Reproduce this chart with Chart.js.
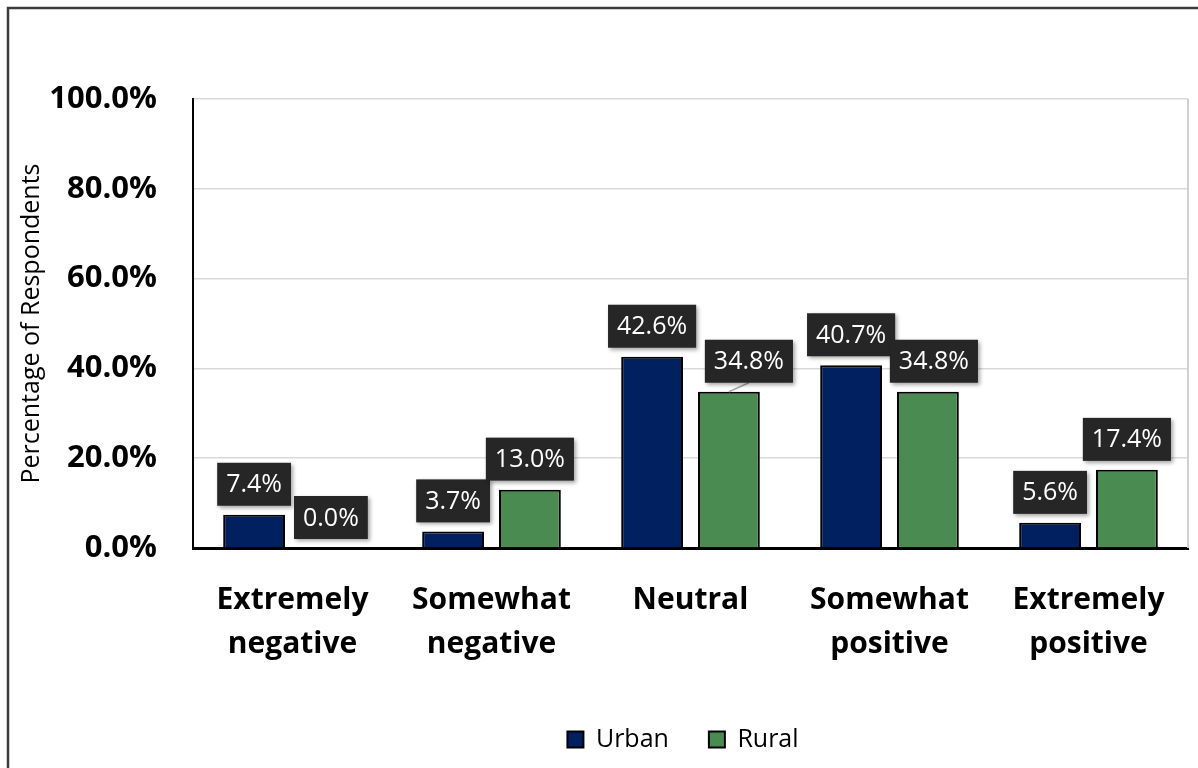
<!DOCTYPE html>
<html>
<head>
<meta charset="utf-8">
<script src="https://cdn.jsdelivr.net/npm/chart.js@4/dist/chart.umd.min.js"></script>
<style>
    body { margin: 0; background: #fff; }
    #wrap { width: 1198px; height: 768px; }
</style>
</head>
<body>
<div id="wrap"><canvas id="myChart" width="1198" height="768"></canvas></div>
<script>
// ------------------------------ data ------------------------------
const categories = [
    ["Extremely", "negative"],
    ["Somewhat", "negative"],
    "Neutral",
    ["Somewhat", "positive"],
    ["Extremely", "positive"]
];
const urbanValues = [7.4, 3.7, 42.6, 40.7, 5.6];
const ruralValues = [0.0, 13.0, 34.8, 34.8, 17.4];
const yTicks = [0, 20, 40, 60, 80, 100];

// small sideways nudges for the callouts (px), rural neutral gets a leader line
const urbanNudge = [0, 0, 0, 0, 0];
const ruralNudge = [0, 0, 20, 6, 0];

const FONT = "'Open Sans', 'Noto Sans', sans-serif";

// -------------------------- frame lines ---------------------------
const framePlugin = {
    id: "frame",
    afterLayout(chart) {
        // excel puts the legend a bit right of centre
        chart.legend.left += 83;
        chart.legend.right += 83;
    },
    beforeDraw(chart) {
        const ctx = chart.ctx;
        ctx.save();
        ctx.strokeStyle = "#3c3c3c";
        ctx.lineWidth = 2.5;
        ctx.beginPath();
        ctx.moveTo(8, 768);
        ctx.lineTo(8, 8);
        ctx.lineTo(1198, 8);
        ctx.stroke();
        ctx.restore();
    },
    afterDatasetsDraw(chart) {
        const ctx = chart.ctx;
        const a = chart.chartArea;
        ctx.save();
        ctx.strokeStyle = "#d0d0d0";
        ctx.lineWidth = 2;
        ctx.beginPath();
        ctx.moveTo(a.right, a.top);
        ctx.lineTo(a.right, a.bottom);
        ctx.stroke();
        ctx.restore();
    }
};

// -------------------------- value callouts -------------------------
const calloutPlugin = {
    id: "callouts",
    afterDatasetsDraw(chart) {
        const ctx = chart.ctx;
        ctx.save();
        ctx.font = "25px " + FONT;
        ctx.textAlign = "center";
        ctx.textBaseline = "middle";
        chart.data.datasets.forEach((ds, di) => {
            const nudge = di === 0 ? urbanNudge : ruralNudge;
            chart.getDatasetMeta(di).data.forEach((bar, i) => {
                const text = ds.data[i].toFixed(1) + "%";
                const w = ctx.measureText(text).width + 18;
                const h = 43;
                const cx = bar.x + nudge[i];
                const bottom = bar.y - 9;
                if (nudge[i] > 10) {
                    ctx.strokeStyle = "#a6a6a6";
                    ctx.lineWidth = 1.5;
                    ctx.beginPath();
                    ctx.moveTo(cx, bottom);
                    ctx.lineTo(bar.x, bar.y);
                    ctx.stroke();
                }
                ctx.shadowColor = "rgba(0,0,0,0.35)";
                ctx.shadowBlur = 4;
                ctx.shadowOffsetX = 2;
                ctx.shadowOffsetY = 2;
                ctx.fillStyle = "#262626";
                ctx.fillRect(cx - w / 2, bottom - h, w, h);
                ctx.shadowColor = "transparent";
                ctx.fillStyle = "#ffffff";
                ctx.fillText(text, cx, bottom - h / 2 + 1);
            });
        });
        ctx.restore();
    }
};

// ------------------------------ chart ------------------------------
const ctx = document.getElementById("myChart");
new Chart(ctx, {
    type: "bar",
    data: {
        labels: categories,
        datasets: [{
            label: "Urban",
            data: urbanValues,
            backgroundColor: "#002060",
            borderColor: "#000000",
            borderWidth: 2,
            borderSkipped: "bottom"
        }, {
            label: "Rural",
            data: ruralValues,
            backgroundColor: "#4a8b52",
            borderColor: "#000000",
            borderWidth: 2,
            borderSkipped: "bottom"
        }]
    },
    options: {
        responsive: false,
        animation: false,
        categoryPercentage: 0.772,
        barPercentage: 0.805,
        layout: { padding: { top: 99, left: 12, right: 10, bottom: 6 } },
        plugins: {
            tooltip: { enabled: false },
            legend: {
                position: "bottom",
                labels: {
                    font: { family: FONT, size: 25, weight: "500" },
                    color: "#000",
                    boxWidth: 16,
                    boxHeight: 16,
                    padding: 40,
                    generateLabels(chart) {
                        return chart.data.datasets.map((d, i) => ({
                            text: d.label,
                            fillStyle: d.backgroundColor,
                            strokeStyle: "#000",
                            lineWidth: 2,
                            datasetIndex: i
                        }));
                    }
                }
            }
        },
        scales: {
            x: {
                grid: { display: false, drawTicks: false },
                border: { color: "#000", width: 3 },
                ticks: {
                    color: "#000",
                    padding: 31,
                    maxRotation: 0,
                    font: { family: FONT, size: 30, weight: "bold", lineHeight: 1.45 }
                },
                afterFit(scale) { scale.height = 139; }
            },
            y: {
                min: 0,
                max: 100,
                afterBuildTicks(scale) { scale.ticks = yTicks.map(v => ({ value: v })); },
                grid: { color: "#d9d9d9", lineWidth: 1.5, drawTicks: false },
                border: { color: "#000", width: 2 },
                ticks: {
                    color: "#000",
                    padding: 36,
                    font: { family: FONT, size: 31, weight: "bold" },
                    callback: v => v.toFixed(1) + "%"
                },
                title: {
                    display: true,
                    text: "Percentage of Respondents",
                    color: "#000",
                    padding: { top: 5, bottom: 0 },
                    font: { family: FONT, size: 25 }
                },
                afterFit(scale) { scale.width = 181; }
            }
        }
    },
    plugins: [framePlugin, calloutPlugin]
});
</script>
</body>
</html>
